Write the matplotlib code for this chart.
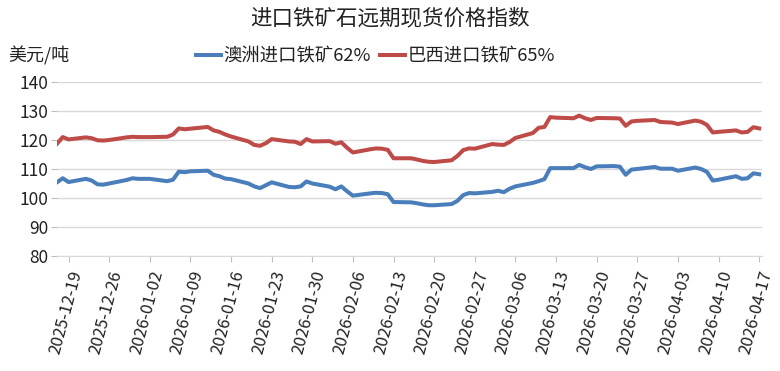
import matplotlib
matplotlib.use("Agg")
import matplotlib.pyplot as plt
import matplotlib.dates as mdates
import pandas as pd

plt.rcParams['font.family'] = ['Noto Sans CJK SC', 'DejaVu Sans']

# business days, 2025-12-17 .. 2026-04-17
dates = pd.bdate_range("2025-12-17", "2026-04-17")

aus_62 = [
    105.4, 106.8, 105.5,
    106.6, 106.0, 104.7, 104.6, 105.0,
    106.2, 106.8, 106.6, 106.6, 106.6,
    105.8, 106.3, 109.1, 108.9, 109.2,
    109.4, 108.0, 107.5, 106.7, 106.5,
    105.0, 104.0, 103.4, 104.4, 105.4,
    103.8, 103.7, 104.0, 105.7, 105.0,
    103.9, 103.0, 104.0, 102.3, 100.8,
    101.6, 101.8, 101.7, 101.3, 98.6,
    98.5, 98.2, 97.8, 97.5, 97.5,
    97.9, 99.0, 101.0, 101.7, 101.6,
    102.1, 102.5, 102.0, 103.2, 104.0,
    105.2, 105.8, 106.5, 110.3, 110.3,
    110.3, 111.4, 110.6, 110.0, 110.9,
    111.0, 110.8, 108.0, 109.8, 110.0,
    110.7, 110.1, 110.1, 110.1, 109.4,
    110.5, 110.0, 109.0, 106.0, 106.3,
    107.5, 106.6, 106.8, 108.5, 108.2,
]

bra_65 = [
    118.7, 121.0, 120.2,
    120.9, 120.6, 119.9, 119.8, 120.0,
    120.9, 121.1, 121.0, 121.0, 121.0,
    121.1, 121.9, 124.0, 123.7, 123.9,
    124.5, 123.3, 122.8, 121.9, 121.2,
    119.5, 118.3, 118.0, 118.9, 120.3,
    119.5, 119.4, 118.6, 120.3, 119.5,
    119.6, 118.7, 119.2, 117.3, 115.7,
    116.8, 117.1, 117.0, 116.6, 113.7,
    113.7, 113.3, 112.8, 112.5, 112.4,
    113.0, 114.5, 116.5, 117.1, 117.0,
    118.6, 118.4, 118.3, 119.3, 120.7,
    122.4, 124.2, 124.5, 127.9, 127.7,
    127.5, 128.4, 127.5, 126.9, 127.6,
    127.5, 127.4, 124.9, 126.4, 126.6,
    126.9, 126.2, 126.1, 126.0, 125.5,
    126.7, 126.3, 125.2, 122.6, 122.8,
    123.3, 122.6, 122.8, 124.4, 124.0,
]

tick_dates = pd.date_range("2025-12-19", "2026-04-17", freq="7D")

fig = plt.figure(figsize=(7.8, 3.71), dpi=100)
ax = fig.add_axes([0.073, 0.31, 0.904, 0.469])

ax.plot(dates, aus_62, color='#4a7ebb', lw=2.9, label='澳洲进口铁矿62%')
ax.plot(dates, bra_65, color='#be4b48', lw=2.9, label='巴西进口铁矿65%')

ax.set_ylim(80, 140)
ax.set_yticks(range(80, 141, 10))
ax.set_xlim(pd.Timestamp("2025-12-17"), pd.Timestamp("2026-04-17 12:00"))
ax.set_xticks(tick_dates)
ax.xaxis.set_major_formatter(mdates.DateFormatter('%Y-%m-%d'))
for lbl in ax.get_xticklabels():
    lbl.set_rotation(75)
    lbl.set_ha('right')
    lbl.set_rotation_mode('anchor')

ax.grid(axis='y', color='#d9d9d9', lw=1)
ax.set_axisbelow(True)
for s in ['top', 'right', 'left']:
    ax.spines[s].set_visible(False)
ax.spines['bottom'].set_color('#d9d9d9')
ax.tick_params(axis='y', length=4, color='#bfbfbf', labelsize=12.5, pad=2, labelcolor='#222222')
ax.tick_params(axis='x', length=4, color='#bfbfbf', labelsize=12, pad=5, labelcolor='#222222')

fig.text(0.5, 0.951, '进口铁矿石远期现货价格指数', ha='center', va='center', fontsize=15.5, color='#222222')
fig.text(0.01, 0.848, '美元/吨', ha='left', va='center', fontsize=13, color='#222222')
fig.legend(loc='center', bbox_to_anchor=(0.481, 0.848), ncol=2, frameon=False,
           fontsize=13.2, handlelength=1.4, handletextpad=0.1, columnspacing=0.5,
           labelcolor='#222222')

fig.savefig('out.png', dpi=100)
